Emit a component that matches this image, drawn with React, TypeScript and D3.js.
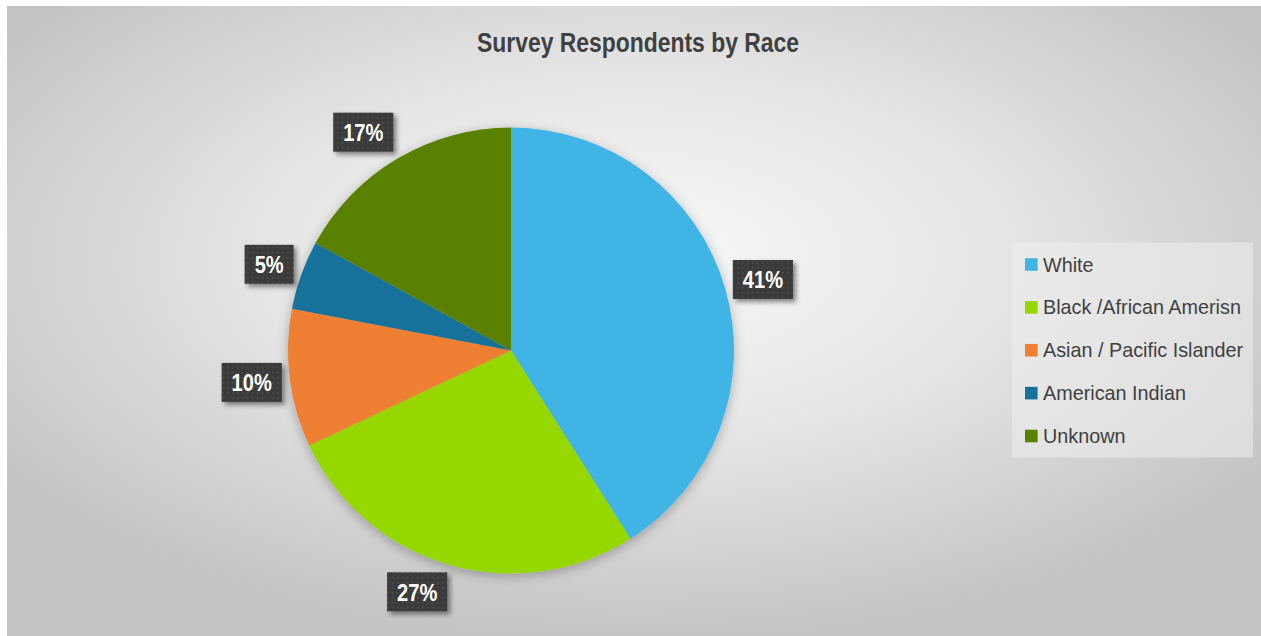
import React from "react";
import * as d3 from "d3";

const categories = [
  "White",
  "Black /African Amerisn",
  "Asian / Pacific Islander",
  "American Indian",
  "Unknown",
];
const values = [41, 27, 10, 5, 17];
const colors = ["#40b4e5", "#97d700", "#ef7f31", "#16729b", "#5a8000"];
const title = "Survey Respondents by Race";

const W = 1261;
const H = 636;
const CX = 511;
const CY = 350.5;
const R = 223;

const narrow = "'Liberation Sans', Arial, sans-serif";
const regular = "'Liberation Sans', Arial, sans-serif";

// approximate Arial Bold advance widths (per 1000 em) for narrow-compression
const boldW: Record<string, number> = {
  "0": 556, "1": 556, "2": 556, "3": 556, "4": 556, "5": 556, "6": 556, "7": 556, "8": 556, "9": 556, "%": 889,
};

export default function App() {
  const pie = d3.pie<number>().sort(null).value((d) => d)(values);
  const arc = d3.arc<d3.PieArcDatum<number>>().innerRadius(0).outerRadius(R);
  const total = d3.sum(values);
  const clamp = (v: number) => Math.max(-1, Math.min(1, v));

  const legendY = d3.scaleLinear().domain([0, categories.length - 1]).range([264.5, 436]);

  return (
    <svg
      width={W}
      height={H}
      style={{ position: "absolute", left: 0, top: 0 }}
    >
      <defs>
        <radialGradient id="bg" cx="0.5" cy="0.4" r="0.62">
          <stop offset="0" stopColor="#f8f8f8" />
          <stop offset="0.45" stopColor="#e7e7e7" />
          <stop offset="1" stopColor="#c3c3c3" />
        </radialGradient>
        <pattern id="dots" patternUnits="userSpaceOnUse" width="5" height="5">
          <rect width="5" height="5" fill="#3a3a3a" />
          <rect x="2" y="2" width="1.5" height="1.5" fill="#505050" />
        </pattern>
        <filter id="pieShadow" x="-20%" y="-20%" width="140%" height="140%">
          <feDropShadow dx="0" dy="3" stdDeviation="6" floodColor="#000" floodOpacity="0.28" />
        </filter>
        <filter id="lblShadow" x="-30%" y="-30%" width="160%" height="160%">
          <feDropShadow dx="3" dy="3" stdDeviation="2.5" floodColor="#000" floodOpacity="0.45" />
        </filter>
      </defs>
      <rect x={7} y={6} width={W - 7} height={H - 6} fill="url(#bg)" />

      <text
        x={638}
        y={52}
        textAnchor="middle"
        fontFamily={narrow}
        fontWeight="bold"
        fontSize={27}
        fill="#404040"
        textLength={322}
        lengthAdjust="spacingAndGlyphs"
      >
        {title}
      </text>

      <g transform={`translate(${CX},${CY})`} filter="url(#pieShadow)">
        {pie.map((d, i) => (
          <path key={i} d={arc(d) || ""} fill={colors[i]} />
        ))}
      </g>

      {pie.map((d, i) => {
        const a = (d.startAngle + d.endAngle) / 2;
        const label = `${Math.round((d.value / total) * 100)}%`;
        const fs = 24.5;
        const tw = label.split("").reduce((s, ch) => s + (boldW[ch] || 556), 0) / 1000 * fs * 0.82;
        const w = tw + 20;
        const h = 39;
        const px = CX + 231 * Math.sin(a);
        const py = CY - 231 * Math.cos(a);
        const cx = px + clamp(Math.sin(a) * 3.5) * (w / 2);
        const cy = py + clamp(-Math.cos(a) * 1.2) * (h / 2);
        return (
          <g key={i}>
            <rect
              x={cx - w / 2}
              y={cy - h / 2}
              width={w}
              height={h}
              fill="url(#dots)"
              filter="url(#lblShadow)"
            />
            <text
              x={cx - tw / 2}
              y={cy + 8.8}
              fontFamily={narrow}
              fontWeight="bold"
              fontSize={fs}
              fill="#ffffff"
              textLength={tw}
              lengthAdjust="spacingAndGlyphs"
            >
              {label}
            </text>
          </g>
        );
      })}

      <rect x={1012} y={242.5} width={241} height={215} fill="#efefef" fillOpacity={0.55} />
      {categories.map((c, i) => (
        <g key={c}>
          <rect x={1025} y={legendY(i) - 6.3} width={12.6} height={12.6} fill={colors[i]} />
          <text
            x={1043}
            y={legendY(i) + 7}
            fontFamily={regular}
            fontSize={19.8}
            fill="#404040"
          >
            {c}
          </text>
        </g>
      ))}
    </svg>
  );
}
